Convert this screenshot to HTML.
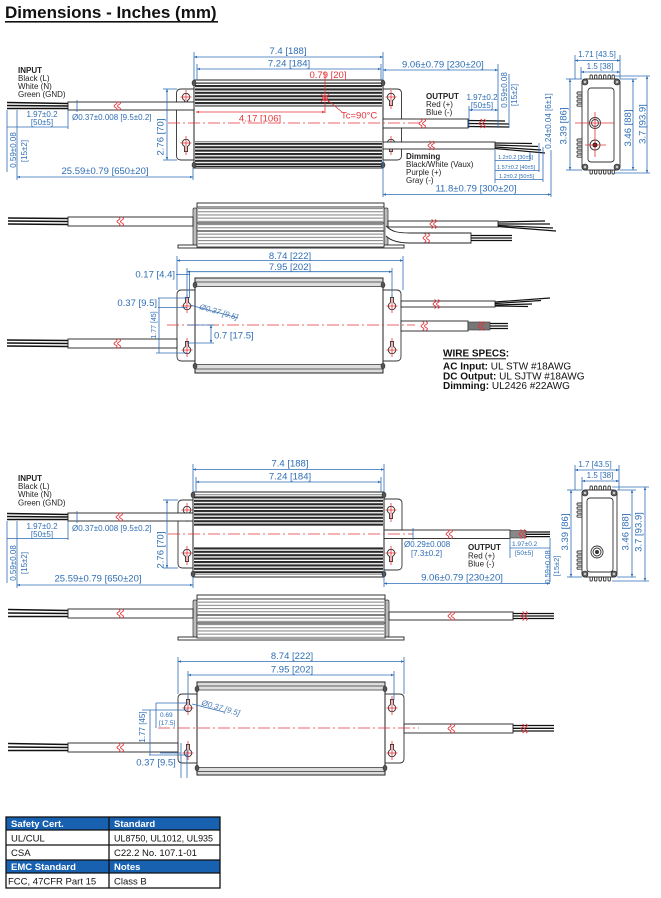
<!DOCTYPE html>
<html><head><meta charset="utf-8"><style>
html,body{margin:0;padding:0;background:#fff;}
svg{display:block;}
text{font-family:"Liberation Sans",Arial,sans-serif;}
</style></head><body>
<svg width="661" height="898" viewBox="0 0 661 898" xmlns="http://www.w3.org/2000/svg">
<defs>
<marker id="a" viewBox="0 0 6 6" refX="6" refY="3" markerWidth="4" markerHeight="4" orient="auto-start-reverse"><path d="M0,0.5 L6,3 L0,5.5z" fill="#2e6db4"/></marker>
<marker id="r" viewBox="0 0 6 6" refX="6" refY="3" markerWidth="4" markerHeight="4" orient="auto-start-reverse"><path d="M0,0.5 L6,3 L0,5.5z" fill="#e3343a"/></marker>
<pattern id="fin" width="4" height="3.4" patternUnits="userSpaceOnUse"><rect width="4" height="2.1" fill="#2a2a2a"/></pattern>
<pattern id="sfin" width="4" height="3.2" patternUnits="userSpaceOnUse"><rect width="4" height="1.1" fill="#8a8a8a"/></pattern>
<g id="brk"><path d="M-2.5,-4.5 q3,1.5 0,3 q-3,1.5 0,3 q3,1.5 0,3 M1,-4.5 q3,1.5 0,3 q-3,1.5 0,3 q3,1.5 0,3" fill="none" stroke="#e3343a" stroke-width="0.9"/></g>
<g id="kh"><path d="M-1.5,3.4 V8.5 H1.5 V3.4 A3.7,3.7 0 1 0 -1.5,3.4 Z" fill="#fff" stroke="#333" stroke-width="0.9"/><line x1="0" y1="-7" x2="0" y2="12" stroke="#e3343a" stroke-width="0.8"/><line x1="-5.5" y1="0" x2="5.5" y2="0" stroke="#e3343a" stroke-width="0.8"/></g>
<g id="bolt"><ellipse cx="0" cy="0" rx="2" ry="3" fill="#555" stroke="#222" stroke-width="0.5"/></g>
<g id="ebolt"><circle cx="0" cy="0" r="3" fill="#666" stroke="#222" stroke-width="0.6"/><circle cx="0" cy="0" r="1.2" fill="#ccc"/></g>
</defs>

<!-- Title -->
<text x="5" y="18" font-size="17" font-weight="bold" fill="#111">Dimensions - Inches (mm)</text>
<rect x="5" y="21" width="213" height="1.6" fill="#111"/>

<!-- ================= SECTION A : TOP VIEW ================= -->
<path d="M194,89 H181 Q176.5,89 176.5,93.5 V155.5 Q176.5,160 181,160 H194" fill="#fff" stroke="#333" stroke-width="0.9"/>
<path d="M383,89 H397 Q401.5,89 401.5,93.5 V155.5 Q401.5,160 397,160 H383" fill="#fff" stroke="#333" stroke-width="0.9"/>
<rect x="194" y="80" width="189" height="88" fill="#fff" stroke="#222" stroke-width="1"/>
<rect x="195" y="82.5" width="187" height="24" fill="url(#fin)"/>
<rect x="195" y="141" width="187" height="24.5" fill="url(#fin)"/>
<line x1="194" y1="166.5" x2="383" y2="166.5" stroke="#222"/>
<use href="#bolt" x="194" y="83"/><use href="#bolt" x="194" y="165"/><use href="#bolt" x="383" y="83"/><use href="#bolt" x="383" y="165"/>
<use href="#kh" transform="translate(186,97)"/><use href="#kh" transform="translate(186,143)"/>
<use href="#kh" transform="translate(391,97)"/><use href="#kh" transform="translate(391,143)"/>
<rect x="68" y="102" width="126" height="8" fill="#fff" stroke="#222" stroke-width="0.9"/>
<g stroke="#111" stroke-width="1.4"><line x1="7" y1="102.5" x2="68" y2="103.5"/><line x1="7" y1="105.5" x2="68" y2="106"/><line x1="7" y1="108.5" x2="68" y2="108.5"/></g>
<use href="#brk" x="118" y="106"/>
<rect x="383" y="119" width="85" height="9" fill="#fff" stroke="#222" stroke-width="0.9"/>
<g stroke="#111" stroke-width="1.3"><line x1="468" y1="120.5" x2="505" y2="121"/><line x1="468" y1="123.5" x2="509" y2="124"/><line x1="468" y1="126.5" x2="509" y2="127"/></g>
<use href="#brk" x="423" y="123.5"/><use href="#brk" x="483" y="123.5"/>
<rect x="383" y="142" width="112" height="7" fill="#fff" stroke="#222" stroke-width="0.9"/>
<g stroke="#111" stroke-width="1.2"><line x1="495" y1="143" x2="532" y2="143.5"/><line x1="495" y1="145" x2="538" y2="146.5"/><line x1="495" y1="147" x2="541" y2="150"/><line x1="495" y1="148.5" x2="545" y2="153"/></g>
<use href="#brk" x="432" y="145.5"/>
<line x1="168" y1="123" x2="420" y2="123" stroke="#e3343a" stroke-width="0.8" stroke-dasharray="12 3 2 3"/>
<line x1="325" y1="72" x2="325" y2="113" stroke="#e3343a" stroke-width="0.8"/>
<line x1="196" y1="112" x2="325" y2="112" stroke="#e3343a" stroke-width="0.8" marker-start="url(#r)" marker-end="url(#r)"/>
<circle cx="325" cy="98" r="2.3" fill="none" stroke="#e3343a" stroke-width="0.9"/>
<line x1="321" y1="94" x2="329" y2="102" stroke="#e3343a" stroke-width="0.8"/><line x1="329" y1="94" x2="321" y2="102" stroke="#e3343a" stroke-width="0.8"/>
<line x1="325" y1="98" x2="342" y2="112" stroke="#e3343a" stroke-width="0.8"/>
<g fill="#e3343a" font-size="9.5">
<text x="328" y="78" text-anchor="middle">0.79 [20]</text>
<text x="260" y="121.5" text-anchor="middle">4.17 [106]</text>
<text x="341" y="118.5">Tc=90°C</text>
</g>
<g stroke="#2e6db4" stroke-width="0.8" fill="none">
<line x1="194" y1="52" x2="194" y2="80"/><line x1="383" y1="52" x2="383" y2="80"/>
<line x1="194" y1="57" x2="383" y2="57" marker-start="url(#a)" marker-end="url(#a)"/>
<line x1="197" y1="64" x2="197" y2="80"/><line x1="381" y1="64" x2="381" y2="80"/>
<line x1="197" y1="69" x2="381" y2="69" marker-start="url(#a)" marker-end="url(#a)"/>
<line x1="383" y1="70" x2="498" y2="70" marker-start="url(#a)" marker-end="url(#a)"/>
<line x1="498" y1="64" x2="498" y2="128"/><line x1="509" y1="74" x2="509" y2="128"/>
<line x1="469" y1="106" x2="469" y2="128"/>
<line x1="469" y1="110" x2="498" y2="110" marker-start="url(#a)" marker-end="url(#a)"/>
<line x1="495" y1="150" x2="495" y2="183"/><line x1="530" y1="152" x2="530" y2="161"/>
<line x1="539" y1="143" x2="539" y2="172"/><line x1="543" y1="147" x2="543" y2="182"/>
<line x1="551" y1="150" x2="551" y2="197"/>
<line x1="495" y1="160.5" x2="530" y2="160.5"/>
<line x1="495" y1="170.5" x2="539" y2="170.5"/>
<line x1="495" y1="179.5" x2="543" y2="179.5"/>
<line x1="383" y1="160" x2="383" y2="197"/>
<line x1="383" y1="194.5" x2="551" y2="194.5" marker-start="url(#a)" marker-end="url(#a)"/>
<line x1="77" y1="100" x2="77" y2="112"/>
<line x1="68" y1="110" x2="68" y2="129"/>
<line x1="7" y1="110" x2="7" y2="172"/><line x1="17" y1="110" x2="17" y2="180"/>
<line x1="7" y1="127" x2="68" y2="127"/>
<line x1="17" y1="177" x2="193" y2="177" marker-start="url(#a)" marker-end="url(#a)"/>
<line x1="193" y1="168" x2="193" y2="180"/>
<line x1="163" y1="89" x2="177" y2="89"/><line x1="163" y1="160" x2="177" y2="160"/>
<line x1="167" y1="89" x2="167" y2="160" marker-start="url(#a)" marker-end="url(#a)"/>
</g>
<g fill="#2e6db4" font-size="9.5">
<text x="288" y="54" text-anchor="middle">7.4 [188]</text>
<text x="289" y="66.5" text-anchor="middle">7.24 [184]</text>
<text x="402" y="67.5">9.06±0.79 [230±20]</text>
<text x="105" y="174" text-anchor="middle">25.59±0.79 [650±20]</text>
<text x="476" y="191.5" text-anchor="middle">11.8±0.79 [300±20]</text>
<text transform="rotate(-90 163.5 137)" x="163.5" y="137" text-anchor="middle">2.76 [70]</text>
</g>
<g fill="#2e6db4" font-size="8">
<text x="42" y="117" text-anchor="middle">1.97±0.2</text>
<text x="42" y="125" text-anchor="middle">[50±5]</text>
<text x="72" y="120">Ø0.37±0.008 [9.5±0.2]</text>
<text transform="rotate(-90 16 150)" x="16" y="150" text-anchor="middle">0.59±0.08</text>
<text transform="rotate(-90 27 151)" x="27" y="151" text-anchor="middle">[15±2]</text>
<text x="482" y="100" text-anchor="middle">1.97±0.2</text>
<text x="482" y="108" text-anchor="middle">[50±5]</text>
<text transform="rotate(-90 507 90)" x="507" y="90" text-anchor="middle">0.59±0.08</text>
<text transform="rotate(-90 517 95)" x="517" y="95" text-anchor="middle">[15±2]</text>
<text transform="rotate(-90 551 121)" x="551" y="121" text-anchor="middle">0.24±0.04 [6±1]</text>
</g>
<g fill="#2e6db4" font-size="5.5">
<text x="498" y="159">1.2±0.2 [30±5]</text>
<text x="497" y="169">1.57±0.2 [40±5]</text>
<text x="499" y="178">1.2±0.2 [50±5]</text>
</g>
<g fill="#222" font-size="8">
<text x="18" y="73" font-weight="bold">INPUT</text>
<text x="18" y="81">Black (L)</text>
<text x="18" y="89">White (N)</text>
<text x="18" y="97">Green (GND)</text>
<text x="426" y="99" font-weight="bold">OUTPUT</text>
<text x="426" y="107">Red (+)</text>
<text x="426" y="115">Blue (-)</text>
<text x="406" y="159" font-weight="bold">Dimming</text>
<text x="406" y="167">Black/White (Vaux)</text>
<text x="406" y="175">Purple (+)</text>
<text x="406" y="183">Gray (-)</text>
</g>

<!-- End view A -->
<g stroke="#333" stroke-width="0.9" fill="#fff">
<rect x="590" y="75" width="2.4" height="5" rx="1"/><rect x="594.5" y="75" width="2.4" height="5" rx="1"/><rect x="599" y="75" width="2.4" height="5" rx="1"/><rect x="603.5" y="75" width="2.4" height="5" rx="1"/><rect x="608" y="75" width="2.4" height="5" rx="1"/><rect x="612" y="75" width="2.4" height="5" rx="1"/>
<rect x="590" y="169" width="2.4" height="5" rx="1"/><rect x="594.5" y="169" width="2.4" height="5" rx="1"/><rect x="599" y="169" width="2.4" height="5" rx="1"/><rect x="603.5" y="169" width="2.4" height="5" rx="1"/><rect x="608" y="169" width="2.4" height="5" rx="1"/><rect x="612" y="169" width="2.4" height="5" rx="1"/>
<rect x="577" y="92" width="6" height="2.2" rx="1"/><rect x="577" y="96" width="6" height="2.2" rx="1"/><rect x="577" y="100" width="6" height="2.2" rx="1"/><rect x="577" y="104" width="6" height="2.2" rx="1"/>
<rect x="577" y="139" width="6" height="2.2" rx="1"/><rect x="577" y="143" width="6" height="2.2" rx="1"/><rect x="577" y="147" width="6" height="2.2" rx="1"/><rect x="577" y="151" width="6" height="2.2" rx="1"/><rect x="577" y="155" width="6" height="2.2" rx="1"/>
<rect x="582" y="79" width="38" height="91" rx="3"/>
<rect x="588" y="88" width="26" height="74" rx="3"/>
<circle cx="595" cy="123" r="5.5"/><circle cx="595" cy="123" r="3.5"/>
<circle cx="595" cy="145" r="5"/>
</g>
<circle cx="595" cy="145" r="2.5" fill="#111"/>
<use href="#ebolt" x="585" y="82"/><use href="#ebolt" x="617" y="82"/><use href="#ebolt" x="585" y="167"/><use href="#ebolt" x="617" y="167"/>
<g stroke="#e3343a" stroke-width="0.8"><line x1="575" y1="123" x2="614" y2="123"/><line x1="595" y1="112" x2="595" y2="157"/><line x1="585" y1="145" x2="606" y2="145"/></g>
<g stroke="#2e6db4" stroke-width="0.8" fill="none">
<line x1="575" y1="55" x2="575" y2="79"/><line x1="620" y1="55" x2="620" y2="79"/>
<line x1="575" y1="60.5" x2="620" y2="60.5" marker-start="url(#a)" marker-end="url(#a)"/>
<line x1="581" y1="67" x2="581" y2="79"/>
<line x1="581" y1="72" x2="620" y2="72" marker-start="url(#a)" marker-end="url(#a)"/>
<line x1="566" y1="79" x2="582" y2="79"/><line x1="566" y1="170" x2="582" y2="170"/>
<line x1="570" y1="79" x2="570" y2="170" marker-start="url(#a)" marker-end="url(#a)"/>
<line x1="620" y1="79" x2="637" y2="79"/><line x1="620" y1="170" x2="637" y2="170"/>
<line x1="633" y1="79" x2="633" y2="170" marker-start="url(#a)" marker-end="url(#a)"/>
<line x1="614" y1="76" x2="650" y2="76"/><line x1="614" y1="173" x2="650" y2="173"/>
<line x1="647" y1="76" x2="647" y2="173" marker-start="url(#a)" marker-end="url(#a)"/>
</g>
<g fill="#2e6db4">
<text x="597" y="57" text-anchor="middle" font-size="8">1.71 [43.5]</text>
<text x="600" y="69" text-anchor="middle" font-size="8">1.5 [38]</text>
<text transform="rotate(-90 566.5 126)" x="566.5" y="126" text-anchor="middle" font-size="9.5">3.39 [86]</text>
<text transform="rotate(-90 631 128)" x="631" y="128" text-anchor="middle" font-size="9.5">3.46 [88]</text>
<text transform="rotate(-90 645.5 124)" x="645.5" y="124" text-anchor="middle" font-size="9.5">3.7 [93.9]</text>
</g>

<!-- ================= SIDE VIEW 1 ================= -->
<rect x="178" y="245" width="226" height="3" fill="#fff" stroke="#222" stroke-width="0.9"/>
<rect x="193" y="208" width="4" height="37" rx="1.5" fill="#bbb" stroke="#333" stroke-width="0.7"/>
<rect x="384" y="208" width="4" height="37" rx="1.5" fill="#bbb" stroke="#333" stroke-width="0.7"/>
<rect x="197" y="203" width="187" height="4" fill="#fff" stroke="#222" stroke-width="0.9"/>
<rect x="197" y="207" width="187" height="40" fill="#fff" stroke="#333" stroke-width="0.9"/>
<rect x="198" y="208" width="185" height="38" fill="url(#sfin)"/>
<g stroke="#444" stroke-width="1.2"><line x1="197" y1="223" x2="384" y2="223"/><line x1="197" y1="231" x2="384" y2="231"/></g>
<rect x="68" y="217" width="125" height="9" fill="#fff" stroke="#222" stroke-width="0.9"/>
<g stroke="#111" stroke-width="1.4"><line x1="8" y1="218" x2="68" y2="218.5"/><line x1="8" y1="221" x2="68" y2="221.5"/><line x1="8" y1="224" x2="68" y2="224.5"/></g>
<use href="#brk" x="121" y="221.5"/>
<rect x="388" y="221" width="110" height="6" fill="#fff" stroke="#222" stroke-width="0.9"/>
<g stroke="#111" stroke-width="1.2"><line x1="498" y1="222" x2="545" y2="221"/><line x1="498" y1="224" x2="550" y2="224"/><line x1="498" y1="225.5" x2="553" y2="228"/><line x1="498" y1="226.5" x2="556" y2="231"/></g>
<use href="#brk" x="434" y="224"/>
<path d="M386,226 C392,232 398,233 410,233 H471 V243 H410 C398,243 390,240 386,236" fill="#fff" stroke="#222" stroke-width="0.9"/>
<g stroke="#111" stroke-width="1.3"><line x1="471" y1="235.5" x2="512" y2="235.5"/><line x1="471" y1="238" x2="512" y2="238"/><line x1="471" y1="240.5" x2="512" y2="240.5"/></g>
<use href="#brk" x="427" y="238"/>

<!-- ================= PLAN VIEW 1 ================= -->
<path d="M195,290 H181.5 Q177,290 177,294.5 V356.5 Q177,361 181.5,361 H195" fill="#fff" stroke="#333" stroke-width="0.9"/>
<path d="M383,290 H396.5 Q401,290 401,294.5 V356.5 Q401,361 396.5,361 H383" fill="#fff" stroke="#333" stroke-width="0.9"/>
<rect x="195" y="278" width="188" height="95" fill="#fff" stroke="#222" stroke-width="1"/>
<rect x="195.5" y="278.5" width="187" height="8" fill="#ddd"/>
<rect x="195.5" y="364.5" width="187" height="8" fill="#ddd"/>
<g stroke="#333" stroke-width="0.8"><line x1="195" y1="282" x2="383" y2="282"/><line x1="195" y1="286.5" x2="383" y2="286.5"/><line x1="195" y1="364.5" x2="383" y2="364.5"/><line x1="195" y1="369" x2="383" y2="369"/></g>
<use href="#bolt" x="195" y="285"/><use href="#bolt" x="195" y="366"/><use href="#bolt" x="383" y="285"/><use href="#bolt" x="383" y="366"/>
<use href="#kh" transform="translate(187,306) rotate(180)"/><use href="#kh" transform="translate(187,350) rotate(180)"/>
<use href="#kh" transform="translate(392,306) rotate(180)"/><use href="#kh" transform="translate(392,350) rotate(180)"/>
<rect x="68" y="339" width="109" height="9" fill="#fff" stroke="#222" stroke-width="0.9"/>
<g stroke="#111" stroke-width="1.4"><line x1="7" y1="340" x2="68" y2="340.5"/><line x1="7" y1="343" x2="68" y2="343.5"/><line x1="7" y1="346" x2="68" y2="346.5"/></g>
<use href="#brk" x="118" y="343.5"/>
<rect x="401" y="301" width="94" height="6" fill="#fff" stroke="#222" stroke-width="0.9"/>
<g stroke="#111" stroke-width="1.2"><line x1="495" y1="302" x2="550" y2="298"/><line x1="495" y1="303.5" x2="541" y2="300.5"/><line x1="495" y1="305" x2="532" y2="304"/><line x1="495" y1="306" x2="528" y2="306.5"/></g>
<use href="#brk" x="437" y="304"/>
<rect x="401" y="321" width="67" height="10" fill="#fff" stroke="#222" stroke-width="0.9"/>
<rect x="468" y="322" width="22" height="8" fill="#777" stroke="#333" stroke-width="0.6"/>
<g stroke="#111" stroke-width="1.3"><line x1="490" y1="323.5" x2="508" y2="323.5"/><line x1="490" y1="326" x2="508" y2="326"/><line x1="490" y1="328.5" x2="508" y2="328.5"/></g>
<use href="#brk" x="425" y="326"/><use href="#brk" x="482" y="326"/>
<line x1="167" y1="325" x2="415" y2="325" stroke="#e3343a" stroke-width="0.8" stroke-dasharray="12 3 2 3"/>
<g stroke="#2e6db4" stroke-width="0.8" fill="none">
<line x1="177" y1="256" x2="177" y2="290"/><line x1="403" y1="256" x2="403" y2="290"/>
<line x1="177" y1="260.5" x2="403" y2="260.5" marker-start="url(#a)" marker-end="url(#a)"/>
<line x1="187" y1="268" x2="187" y2="298"/><line x1="392" y1="268" x2="392" y2="298"/>
<line x1="187" y1="271.7" x2="392" y2="271.7" marker-start="url(#a)" marker-end="url(#a)"/>
<line x1="189.5" y1="271" x2="189.5" y2="298"/>
<line x1="176" y1="274.5" x2="190" y2="274.5"/>
<line x1="158" y1="298" x2="187" y2="298"/><line x1="158" y1="307.5" x2="187" y2="307.5"/>
<line x1="159" y1="298" x2="159" y2="353"/>
<line x1="156" y1="353" x2="187" y2="353"/>
<line x1="190" y1="305" x2="238" y2="318"/>
<line x1="187" y1="325" x2="214" y2="325"/><line x1="187" y1="343" x2="214" y2="343"/>
<line x1="211" y1="325" x2="211" y2="343" marker-start="url(#a)" marker-end="url(#a)"/>
</g>
<g fill="#2e6db4" font-size="9.5">
<text x="290" y="259" text-anchor="middle">8.74 [222]</text>
<text x="290" y="270" text-anchor="middle">7.95 [202]</text>
<text x="175" y="277.5" text-anchor="end">0.17 [4.4]</text>
<text x="157" y="306" text-anchor="end">0.37 [9.5]</text>
<text x="214" y="338.5">0.7 [17.5]</text>
</g>
<text transform="rotate(-90 156 325)" x="156" y="325" text-anchor="middle" font-size="7" fill="#2e6db4">1.77 [45]</text>
<text transform="rotate(16 199 309)" x="199" y="309" font-size="8" fill="#4a7ab8" font-style="italic">Ø0.37 [9.5]</text>

<!-- Wire specs -->
<g fill="#111" font-size="10">
<text x="443" y="356.5" font-weight="bold">WIRE SPECS:</text>
<text x="443" y="369.5"><tspan font-weight="bold">AC Input:</tspan> UL STW #18AWG</text>
<text x="443" y="379.5"><tspan font-weight="bold">DC Output:</tspan> UL SJTW #18AWG</text>
<text x="443" y="389"><tspan font-weight="bold">Dimming:</tspan> UL2426 #22AWG</text>
</g>
<rect x="443" y="358.3" width="63" height="1" fill="#111"/>

<!-- ================= SECTION B : TOP VIEW ================= -->
<path d="M193,500 H182.5 Q178,500 178,504.5 V563.5 Q178,568 182.5,568 H193" fill="#fff" stroke="#333" stroke-width="0.9"/>
<path d="M384,499 H397.5 Q402,499 402,503.5 V565.5 Q402,570 397.5,570 H384" fill="#fff" stroke="#333" stroke-width="0.9"/>
<rect x="193" y="492" width="191" height="85" fill="#fff" stroke="#222" stroke-width="1"/>
<rect x="194" y="494.5" width="189" height="32" fill="url(#fin)"/>
<rect x="194" y="547" width="189" height="28" fill="url(#fin)"/>
<use href="#bolt" x="193" y="495"/><use href="#bolt" x="193" y="574"/><use href="#bolt" x="384" y="495"/><use href="#bolt" x="384" y="574"/>
<use href="#kh" transform="translate(187,510)"/><use href="#kh" transform="translate(187,553)"/>
<use href="#kh" transform="translate(391,510)"/><use href="#kh" transform="translate(391,553)"/>
<rect x="68" y="513" width="125" height="8" fill="#fff" stroke="#222" stroke-width="0.9"/>
<g stroke="#111" stroke-width="1.4"><line x1="7" y1="513.5" x2="68" y2="514.5"/><line x1="7" y1="516.5" x2="68" y2="517"/><line x1="7" y1="519.5" x2="68" y2="519.5"/></g>
<use href="#brk" x="120" y="517"/>
<rect x="384" y="530" width="126" height="8.5" fill="#fff" stroke="#222" stroke-width="0.9"/>
<rect x="510" y="530.5" width="16" height="7.5" fill="#888" stroke="#333" stroke-width="0.6"/>
<g stroke="#111" stroke-width="1.3"><line x1="526" y1="532" x2="550" y2="532"/><line x1="526" y1="534.3" x2="550" y2="534.3"/><line x1="526" y1="536.6" x2="550" y2="536.6"/></g>
<use href="#brk" x="450" y="534"/><use href="#brk" x="523" y="534"/>
<line x1="168" y1="534" x2="413" y2="534" stroke="#e3343a" stroke-width="0.8" stroke-dasharray="12 3 2 3"/>
<g stroke="#2e6db4" stroke-width="0.8" fill="none">
<line x1="193" y1="464" x2="193" y2="492"/><line x1="384" y1="464" x2="384" y2="492"/>
<line x1="193" y1="469.5" x2="384" y2="469.5" marker-start="url(#a)" marker-end="url(#a)"/>
<line x1="196" y1="477" x2="196" y2="492"/><line x1="381" y1="477" x2="381" y2="492"/>
<line x1="196" y1="482" x2="381" y2="482" marker-start="url(#a)" marker-end="url(#a)"/>
<line x1="77" y1="511" x2="77" y2="523"/>
<line x1="68" y1="521" x2="68" y2="540"/>
<line x1="7" y1="521" x2="7" y2="583"/><line x1="17" y1="521" x2="17" y2="588"/>
<line x1="7" y1="538.5" x2="68" y2="538.5"/>
<line x1="17" y1="585" x2="193" y2="585" marker-start="url(#a)" marker-end="url(#a)"/>
<line x1="193" y1="577" x2="193" y2="588"/>
<line x1="163" y1="500" x2="178" y2="500"/><line x1="163" y1="568" x2="178" y2="568"/>
<line x1="167" y1="500" x2="167" y2="568" marker-start="url(#a)" marker-end="url(#a)"/>
<line x1="413" y1="528" x2="413" y2="540"/>
<line x1="510" y1="538" x2="510" y2="558"/><line x1="550" y1="538" x2="550" y2="582"/>
<line x1="510" y1="548" x2="550" y2="548"/>
<line x1="384" y1="570" x2="384" y2="587"/>
<line x1="384" y1="583.5" x2="550" y2="583.5" marker-start="url(#a)" marker-end="url(#a)"/>
</g>
<g fill="#2e6db4" font-size="9.5">
<text x="290" y="466.5" text-anchor="middle">7.4 [188]</text>
<text x="290" y="479.5" text-anchor="middle">7.24 [184]</text>
<text x="98" y="581.5" text-anchor="middle">25.59±0.79 [650±20]</text>
<text x="462" y="580.5" text-anchor="middle">9.06±0.79 [230±20]</text>
<text transform="rotate(-90 163.5 550)" x="163.5" y="550" text-anchor="middle">2.76 [70]</text>
</g>
<g fill="#2e6db4" font-size="8">
<text x="42" y="529" text-anchor="middle">1.97±0.2</text>
<text x="42" y="537" text-anchor="middle">[50±5]</text>
<text x="72" y="531">Ø0.37±0.008 [9.5±0.2]</text>
<text transform="rotate(-90 16 563)" x="16" y="563" text-anchor="middle">0.59±0.08</text>
<text transform="rotate(-90 27 563)" x="27" y="563" text-anchor="middle">[15±2]</text>
<text x="404" y="547">Ø0.29±0.008</text>
<text x="411" y="556">[7.3±0.2]</text>
<text transform="rotate(-90 550 567)" x="550" y="567" text-anchor="middle" font-size="7.5">0.59±0.08</text>
<text transform="rotate(-90 559 566)" x="559" y="566" text-anchor="middle" font-size="7.5">[15±2]</text>
</g>
<g fill="#2e6db4" font-size="6.5">
<text x="512" y="546">1.97±0.2</text>
<text x="515" y="555">[50±5]</text>
</g>
<g fill="#222" font-size="8">
<text x="18" y="481" font-weight="bold">INPUT</text>
<text x="18" y="489">Black (L)</text>
<text x="18" y="497">White (N)</text>
<text x="18" y="505.5">Green (GND)</text>
<text x="468" y="550" font-weight="bold">OUTPUT</text>
<text x="468" y="558.5">Red (+)</text>
<text x="468" y="566.5">Blue (-)</text>
</g>

<!-- End view B -->
<g stroke="#333" stroke-width="0.9" fill="#fff">
<rect x="590" y="486" width="2.4" height="5" rx="1"/><rect x="594.5" y="486" width="2.4" height="5" rx="1"/><rect x="599" y="486" width="2.4" height="5" rx="1"/><rect x="603.5" y="486" width="2.4" height="5" rx="1"/><rect x="608" y="486" width="2.4" height="5" rx="1"/>
<rect x="590" y="576" width="2.4" height="5" rx="1"/><rect x="594.5" y="576" width="2.4" height="5" rx="1"/><rect x="599" y="576" width="2.4" height="5" rx="1"/><rect x="603.5" y="576" width="2.4" height="5" rx="1"/><rect x="608" y="576" width="2.4" height="5" rx="1"/>
<rect x="577" y="503" width="6" height="2.2" rx="1"/><rect x="577" y="507" width="6" height="2.2" rx="1"/><rect x="577" y="511" width="6" height="2.2" rx="1"/><rect x="577" y="515" width="6" height="2.2" rx="1"/>
<rect x="577" y="551" width="6" height="2.2" rx="1"/><rect x="577" y="555" width="6" height="2.2" rx="1"/><rect x="577" y="559" width="6" height="2.2" rx="1"/><rect x="577" y="563" width="6" height="2.2" rx="1"/><rect x="577" y="567" width="6" height="2.2" rx="1"/>
<rect x="582" y="490" width="35" height="87" rx="3"/>
<rect x="587" y="498" width="26" height="74" rx="3"/>
<circle cx="597" cy="552" r="6"/><circle cx="597" cy="552" r="4"/>
</g>
<circle cx="597" cy="552" r="2" fill="#333"/>
<use href="#ebolt" x="585" y="493"/><use href="#ebolt" x="614" y="493"/><use href="#ebolt" x="585" y="574"/><use href="#ebolt" x="614" y="574"/>
<g stroke="#2e6db4" stroke-width="0.8" fill="none">
<line x1="575" y1="465" x2="575" y2="490"/><line x1="619" y1="465" x2="619" y2="490"/>
<line x1="575" y1="470" x2="619" y2="470" marker-start="url(#a)" marker-end="url(#a)"/>
<line x1="582" y1="477" x2="582" y2="490"/>
<line x1="582" y1="481" x2="619" y2="481" marker-start="url(#a)" marker-end="url(#a)"/>
<line x1="567" y1="490" x2="582" y2="490"/><line x1="567" y1="577" x2="582" y2="577"/>
<line x1="571" y1="490" x2="571" y2="577" marker-start="url(#a)" marker-end="url(#a)"/>
<line x1="617" y1="490" x2="636" y2="490"/><line x1="617" y1="577" x2="636" y2="577"/>
<line x1="632" y1="490" x2="632" y2="577" marker-start="url(#a)" marker-end="url(#a)"/>
<line x1="612" y1="487" x2="649" y2="487"/><line x1="612" y1="581" x2="649" y2="581"/>
<line x1="645" y1="487" x2="645" y2="581" marker-start="url(#a)" marker-end="url(#a)"/>
</g>
<g fill="#2e6db4">
<text x="595" y="467" text-anchor="middle" font-size="8">1.7 [43.5]</text>
<text x="600" y="478" text-anchor="middle" font-size="8">1.5 [38]</text>
<text transform="rotate(-90 568 532)" x="568" y="532" text-anchor="middle" font-size="9.5">3.39 [86]</text>
<text transform="rotate(-90 628.5 532)" x="628.5" y="532" text-anchor="middle" font-size="9.5">3.46 [88]</text>
<text transform="rotate(-90 641.5 532)" x="641.5" y="532" text-anchor="middle" font-size="9.5">3.7 [93.9]</text>
</g>

<!-- ================= SIDE VIEW 2 ================= -->
<rect x="178" y="637" width="226" height="3" fill="#fff" stroke="#222" stroke-width="0.9"/>
<rect x="193" y="600" width="4" height="37" rx="1.5" fill="#bbb" stroke="#333" stroke-width="0.7"/>
<rect x="385" y="600" width="4" height="37" rx="1.5" fill="#bbb" stroke="#333" stroke-width="0.7"/>
<rect x="197" y="595" width="188" height="4" fill="#fff" stroke="#222" stroke-width="0.9"/>
<rect x="197" y="599" width="188" height="39" fill="#fff" stroke="#333" stroke-width="0.9"/>
<rect x="198" y="600" width="186" height="37" fill="url(#sfin)"/>
<g stroke="#444" stroke-width="1.2"><line x1="197" y1="615" x2="385" y2="615"/><line x1="197" y1="623" x2="385" y2="623"/></g>
<rect x="68" y="609" width="125" height="9" fill="#fff" stroke="#222" stroke-width="0.9"/>
<g stroke="#111" stroke-width="1.4"><line x1="8" y1="609.5" x2="68" y2="610.5"/><line x1="8" y1="613" x2="68" y2="613.5"/><line x1="8" y1="616.5" x2="68" y2="616.5"/></g>
<use href="#brk" x="121" y="613.5"/>
<rect x="389" y="612" width="124" height="8" fill="#fff" stroke="#222" stroke-width="0.9"/>
<g stroke="#111" stroke-width="1.3"><line x1="513" y1="613.5" x2="554" y2="613.5"/><line x1="513" y1="616" x2="554" y2="616"/><line x1="513" y1="618.5" x2="554" y2="618.5"/></g>
<use href="#brk" x="452" y="616"/><use href="#brk" x="525" y="616"/>

<!-- ================= PLAN VIEW 2 ================= -->
<path d="M197,694 H182.5 Q178,694 178,698.5 V758.5 Q178,763 182.5,763 H197" fill="#fff" stroke="#333" stroke-width="0.9"/>
<path d="M385,694 H399.5 Q404,694 404,698.5 V758.5 Q404,763 399.5,763 H385" fill="#fff" stroke="#333" stroke-width="0.9"/>
<rect x="197" y="682" width="188" height="93" fill="#fff" stroke="#222" stroke-width="1"/>
<rect x="197.5" y="682.5" width="187" height="7" fill="#ddd"/>
<rect x="197.5" y="767.5" width="187" height="7" fill="#ddd"/>
<g stroke="#333" stroke-width="0.8"><line x1="197" y1="686" x2="385" y2="686"/><line x1="197" y1="690" x2="385" y2="690"/><line x1="197" y1="767.5" x2="385" y2="767.5"/><line x1="197" y1="771.5" x2="385" y2="771.5"/></g>
<use href="#bolt" x="197" y="689"/><use href="#bolt" x="197" y="768"/><use href="#bolt" x="385" y="689"/><use href="#bolt" x="385" y="768"/>
<use href="#kh" transform="translate(188,708) rotate(180)"/><use href="#kh" transform="translate(188,753) rotate(180)"/>
<use href="#kh" transform="translate(392,708) rotate(180)"/><use href="#kh" transform="translate(392,753) rotate(180)"/>
<rect x="68" y="743" width="110" height="9" fill="#fff" stroke="#222" stroke-width="0.9"/>
<g stroke="#111" stroke-width="1.4"><line x1="8" y1="743.5" x2="68" y2="744.5"/><line x1="8" y1="747" x2="68" y2="747.5"/><line x1="8" y1="750.5" x2="68" y2="750.5"/></g>
<use href="#brk" x="121" y="747.5"/>
<rect x="404" y="724" width="109" height="9" fill="#fff" stroke="#222" stroke-width="0.9"/>
<g stroke="#111" stroke-width="1.3"><line x1="513" y1="725.5" x2="554" y2="725.5"/><line x1="513" y1="728.3" x2="554" y2="728.3"/><line x1="513" y1="731" x2="554" y2="731"/></g>
<use href="#brk" x="452" y="728.5"/><use href="#brk" x="525" y="728.5"/>
<line x1="158" y1="728" x2="419" y2="728" stroke="#e3343a" stroke-width="0.8" stroke-dasharray="12 3 2 3"/>
<g stroke="#2e6db4" stroke-width="0.8" fill="none">
<line x1="178" y1="657" x2="178" y2="694"/><line x1="404" y1="657" x2="404" y2="694"/>
<line x1="178" y1="661.5" x2="404" y2="661.5" marker-start="url(#a)" marker-end="url(#a)"/>
<line x1="188" y1="671" x2="188" y2="700"/><line x1="394" y1="671" x2="394" y2="700"/>
<line x1="188" y1="675" x2="394" y2="675" marker-start="url(#a)" marker-end="url(#a)"/>
<line x1="192" y1="704" x2="224" y2="712"/>
<line x1="142" y1="710" x2="188" y2="710"/>
<line x1="149" y1="755" x2="188" y2="755"/>
<line x1="150" y1="710" x2="150" y2="755"/>
<line x1="156" y1="703" x2="188" y2="703"/>
<line x1="156" y1="703" x2="156" y2="728"/>
<line x1="181" y1="743" x2="181" y2="778"/><line x1="187" y1="750" x2="187" y2="778"/>
<line x1="160" y1="753" x2="181" y2="753"/>
</g>
<g fill="#2e6db4" font-size="9.5">
<text x="292" y="659" text-anchor="middle">8.74 [222]</text>
<text x="292" y="672.5" text-anchor="middle">7.95 [202]</text>
<text x="156" y="765.5" text-anchor="middle">0.37 [9.5]</text>
</g>
<text transform="rotate(-90 145 727)" x="145" y="727" text-anchor="middle" font-size="8" fill="#2e6db4">1.77 [45]</text>
<text x="160" y="717" font-size="6.5" fill="#2e6db4">0.69</text>
<text x="159" y="725" font-size="6.5" fill="#2e6db4">[17.5]</text>
<text transform="rotate(16 201 705)" x="201" y="705" font-size="8" fill="#4a7ab8" font-style="italic">Ø0.37 [9.5]</text>

<!-- ================= TABLE ================= -->
<rect x="6" y="817" width="214" height="71" fill="#fff"/>
<rect x="6" y="817" width="214" height="13" fill="#1761b0"/>
<rect x="6" y="860" width="214" height="13" fill="#1761b0"/>
<g stroke="#111" stroke-width="1.3" fill="none">
<rect x="6" y="817" width="214" height="71"/>
<line x1="6" y1="830" x2="220" y2="830"/>
<line x1="6" y1="845" x2="220" y2="845"/>
<line x1="6" y1="860" x2="220" y2="860"/>
<line x1="6" y1="873" x2="220" y2="873"/>
<line x1="109" y1="817" x2="109" y2="888"/>
</g>
<g font-size="9.5">
<text x="11" y="827" fill="#fff" font-weight="bold">Safety Cert.</text>
<text x="114" y="827" fill="#fff" font-weight="bold">Standard</text>
<text x="11" y="841.5" fill="#111">UL/CUL</text>
<text x="114" y="841.5" fill="#111" font-size="9" textLength="99" lengthAdjust="spacingAndGlyphs">UL8750, UL1012, UL935</text>
<text x="11" y="856" fill="#111">CSA</text>
<text x="114" y="856" fill="#111">C22.2 No. 107.1-01</text>
<text x="11" y="870" fill="#fff" font-weight="bold">EMC Standard</text>
<text x="114" y="870" fill="#fff" font-weight="bold">Notes</text>
<text x="8" y="884.5" fill="#111">FCC, 47CFR Part 15</text>
<text x="114" y="884.5" fill="#111">Class B</text>
</g>
</svg>
</body></html>
